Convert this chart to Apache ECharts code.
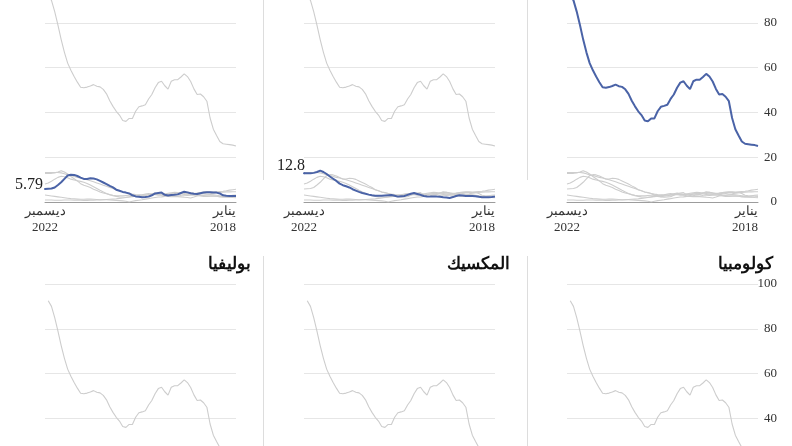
<!DOCTYPE html>
<html><head><meta charset="utf-8">
<script src="https://cdn.jsdelivr.net/npm/echarts@6/dist/echarts.min.js"></script>
<style>
html,body{margin:0;padding:0;background:#fff;overflow:hidden;width:792px;height:446px}
#c{position:absolute;left:0;top:-70px;width:792px;height:720px}
</style>
</head><body><div id="c"></div>
<script>
// ---- categories (Jan 2018 .. Dec 2022) ----
const months = [
 '2018-01','2018-02','2018-03','2018-04','2018-05','2018-06','2018-07','2018-08','2018-09','2018-10','2018-11','2018-12',
 '2019-01','2019-02','2019-03','2019-04','2019-05','2019-06','2019-07','2019-08','2019-09','2019-10','2019-11','2019-12',
 '2020-01','2020-02','2020-03','2020-04','2020-05','2020-06','2020-07','2020-08','2020-09','2020-10','2020-11','2020-12',
 '2021-01','2021-02','2021-03','2021-04','2021-05','2021-06','2021-07','2021-08','2021-09','2021-10','2021-11','2021-12',
 '2022-01','2022-02','2022-03','2022-04','2022-05','2022-06','2022-07','2022-08','2022-09','2022-10','2022-11','2022-12'];
const tickFirst = 'يناير\n2018';
const tickLast = 'ديسمبر\n2022';

// ---- series values (chronological) ----
const seriesBig = [25.0,25.4,25.6,25.8,26.0,27.0,29.7,32.5,37.5,45.0,47.0,48.2,48.0,50.5,53.8,56.0,57.2,55.8,54.6,54.6,
 53.9,50.4,51.9,53.9,53.3,51.0,48.0,46.0,43.4,42.9,42.5,40.5,37.3,37.3,36.0,36.4,38.8,40.5,42.7,45.2,
 48.3,50.3,51.4,51.7,52.4,51.8,51.3,51.0,51.2,53.5,56.0,58.8,62.0,66.8,72.5,79.0,85.0,90.0,92.5,null];
const seriesP1 = [2.7,2.7,2.7,2.8,3.0,3.8,4.2,4.2,4.3,4.3,4.2,3.9,3.6,3.7,3.9,4.3,4.6,4.0,3.4,3.2,
 3.1,2.9,3.2,4.2,4.0,3.8,3.0,2.4,2.2,2.1,2.3,2.5,3.0,3.8,4.2,4.5,5.0,5.5,6.5,7.2,
 8.0,8.7,9.4,10.1,10.5,10.6,10.3,10.3,10.9,11.6,12.1,12.2,11.8,10.3,8.8,7.6,6.5,6.0,5.9,5.79];
const seriesP2 = [2.4,2.2,2.1,2.1,2.1,2.3,2.6,2.7,2.7,2.7,2.9,3.0,2.7,2.2,1.8,2.0,2.1,2.3,2.4,2.4,
 2.4,2.5,2.7,3.2,3.6,4.0,3.7,3.2,2.7,2.6,2.4,2.8,3.1,3.0,2.9,2.8,2.8,2.8,3.0,3.3,
 3.7,4.0,4.5,5.1,5.7,6.5,7.0,7.5,8.2,9.4,10.4,11.4,12.5,13.4,14.0,13.4,13.0,12.8,12.8,12.8];
const colombia = [5.7,5.5,5.3,5.0,4.8,4.7,4.6,4.4,4.5,4.6,4.4,4.2,4.0,3.9,4.1,4.3,4.2,4.0,3.8,3.6,
 3.5,3.3,3.1,3.0,3.2,3.4,3.3,3.1,3.0,3.1,3.2,3.3,3.5,3.8,4.1,4.5,5.0,5.5,6.0,6.5,
 7.0,7.5,8.0,8.5,9.0,9.5,9.9,10.3,10.7,11.0,11.4,11.8,12.1,12.6,13.0,13.2,13.2,13.1,13.1,13.2];
const mexico = [4.6,4.6,4.5,4.5,4.4,4.3,4.1,3.9,3.7,3.6,3.8,4.0,3.9,3.7,3.5,3.6,3.8,4.0,4.2,4.3,
 4.1,3.9,3.6,3.3,3.2,3.4,3.6,3.8,3.5,3.2,3.0,2.9,2.6,2.3,2.1,2.2,2.3,2.5,2.8,3.2,
 3.8,4.5,5.2,6.0,6.8,7.6,8.3,8.8,9.2,9.5,9.8,10.2,10.8,11.3,11.5,11.0,10.2,9.3,8.5,8.0];
const bolivia = [3.1,3.0,2.8,2.6,2.5,2.5,2.6,2.7,2.6,2.5,2.5,2.7,2.9,3.1,3.0,2.9,2.8,2.9,3.1,3.2,
 2.8,2.6,2.5,2.3,2.2,2.0,1.8,1.5,1.3,1.0,0.8,0.6,0.3,0.0,0.3,0.5,0.6,0.7,0.8,0.9,
 1.0,1.0,1.0,1.1,1.2,1.3,1.3,1.2,1.2,1.3,1.4,1.5,1.7,1.9,2.1,2.3,2.5,2.7,2.9,3.1];
const otherD = [1.9,2.0,2.2,2.4,2.6,2.8,3.0,3.2,3.3,3.2,3.1,3.2,3.4,3.5,3.6,3.5,3.4,3.6,3.7,3.8,
 3.7,3.6,3.5,3.4,3.5,3.4,3.3,3.2,3.1,3.0,2.8,2.6,2.4,2.2,2.0,1.8,1.6,1.4,1.3,1.2,
 1.1,1.0,0.9,0.9,0.8,0.8,0.7,0.7,0.8,0.8,0.8,0.9,0.9,0.9,0.8,0.8,0.8,0.9,0.9,0.9];

const allSeries = {big: seriesBig, p1: seriesP1, p2: seriesP2, colombia, mexico, bolivia, otherD};

// ---- panels ----
const panels = [
  {row:0, col:0, key:'p1', title:'', labelOffset:[0,-4]},
  {row:0, col:1, key:'p2', title:'', labelOffset:[3,-7.5]},
  {row:0, col:2, key:'big', title:'', labelOffset:[0,-4]},
  {row:1, col:0, key:'bolivia', title:'بوليفيا', labelOffset:[0,-4]},
  {row:1, col:1, key:'mexico', title:'المكسيك', labelOffset:[0,-4]},
  {row:1, col:2, key:'colombia', title:'كولومبيا', labelOffset:[0,-4]}
];

// ---- layout / style ----
const W = 792;
const colLefts = [45, 304, 567];
const rowTops = [48, 354];
const plotW = 191, plotH = 224;
const dividerX = [263.5, 527.5];
const BLUE = '#4a63a7', GREY = '#cdcdcd';
const SERIF = "'Liberation Serif','Times New Roman',serif";

const chart = echarts.init(document.getElementById('c'));
const grids = [], xAxes = [], yAxes = [], series = [], titles = [], graphics = [];

panels.forEach((p, k) => {
  grids.push({left: colLefts[p.col], top: rowTops[p.row], width: plotW, height: plotH,
    containLabel:false, outerBoundsMode:'none'});
  xAxes.push({
    type:'category', gridIndex:k, data: months, inverse:true, boundaryGap:false,
    axisLine:{show:true, lineStyle:{color:'#9c9c9c', width:1}},
    axisTick:{show:false}, splitLine:{show:false},
    axisLabel:{
      interval:(i) => i === 0 || i === months.length - 1,
      formatter:(v, i) => i === 0 ? tickFirst : tickLast,
      align:'center', alignMinLabel:'right', alignMaxLabel:'center',
      margin:2, fontSize:13, lineHeight:16, color:'#333', fontFamily:SERIF
    }
  });
  yAxes.push({
    type:'value', gridIndex:k, min:0, max:100, interval:20, position:'right',
    axisLine:{show:false}, axisTick:{show:false},
    axisLabel:{show: p.col === 2, align:'right', margin:19, fontSize:13, color:'#333', fontFamily:SERIF},
    splitLine:{show:true, lineStyle:{color:'#e6e6e6', width:1}}
  });
  Object.keys(allSeries).forEach(key => {
    if (key === p.key) return;
    series.push({type:'line', xAxisIndex:k, yAxisIndex:k, data: allSeries[key], symbol:'none',
      lineStyle:{color:GREY, width:1.1}, silent:true, z:2});
  });
  const vals = allSeries[p.key];
  let last = vals.length - 1;
  while (last > 0 && vals[last] == null) last--;
  const data = vals.map((v, i) => i === last ? {
    value: v, symbol:'circle', symbolSize:2, itemStyle:{color:BLUE},
    label:{show:true, position:'left', distance:1, offset:p.labelOffset, formatter: String(v),
      fontSize:16, color:'#222', fontFamily:SERIF}
  } : v);
  series.push({type:'line', xAxisIndex:k, yAxisIndex:k, data, symbol:'none', showSymbol:true,
    lineStyle:{color:BLUE, width:2}, itemStyle:{color:BLUE}, silent:true, z:3});
  if (p.title) {
    titles.push({text:p.title, right: W - (colLefts[p.col] + plotW + 15), top: rowTops[p.row] - 29,
      padding:0, textStyle:{fontSize:17, fontWeight:'bold', color:'#111', lineHeight:20, fontFamily:SERIF}});
  }
});

rowTops.forEach(t => dividerX.forEach(x => graphics.push({
  type:'line', silent:true, shape:{x1:x, y1:t - 28, x2:x, y2:t + 202},
  style:{stroke:'#dddddd', lineWidth:1}
})));

chart.setOption({
  animation:false, backgroundColor:'#fff',
  title: titles, grid: grids, xAxis: xAxes, yAxis: yAxes, series, graphic: graphics
});
</script></body></html>
